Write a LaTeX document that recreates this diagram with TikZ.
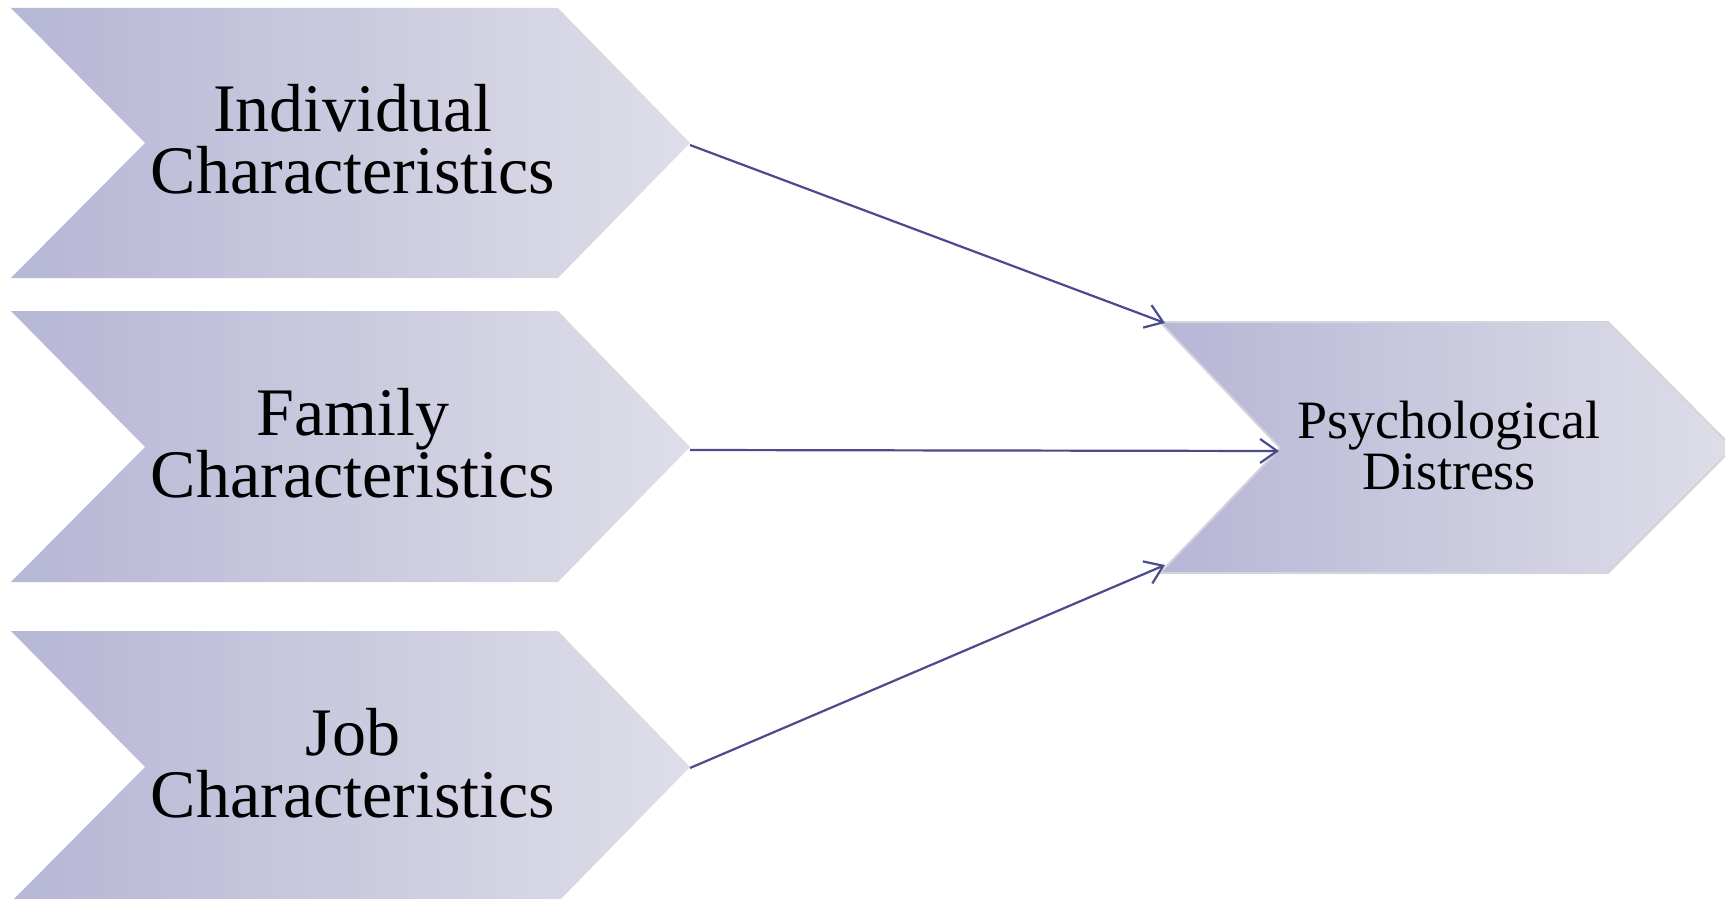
\documentclass[tikz,border=0pt]{standalone}
\usepackage{fontspec}
\setmainfont{Liberation Serif}
\usetikzlibrary{arrows.meta}
\definecolor{chevL}{RGB}{182,182,214}
\definecolor{chevR}{RGB}{222,222,232}
\definecolor{arrowc}{RGB}{75,75,140}
\definecolor{chevborder}{RGB}{212,212,222}
\begin{document}
\begin{tikzpicture}[x=1pt,y=-1pt,
  chev/.style={left color=chevL,right color=chevR,draw=none},
  chevb/.style={left color=chevL,right color=chevR,draw=chevborder,line width=2pt},
  biglabel/.style={align=center,font=\fontsize{68}{62}\selectfont,inner sep=0pt},
  smalllabel/.style={align=center,font=\fontsize{54}{51}\selectfont,inner sep=0pt},
  link/.style={draw=arrowc,line width=2.2pt,-{Straight Barb[length=17pt,width=24pt,line width=2.2pt]}}
]
\useasboundingbox (0,0) rectangle (1725,899);
\clip (0,0) rectangle (1725,899);

% chevrons
\path[chev] (11,8) -- (558,8) -- (690,143) -- (558,278) -- (11,278) -- (145,143) -- cycle;
\path[chev] (11,311) -- (558,311) -- (690,447) -- (558,582) -- (11,582) -- (145,447) -- cycle;
\path[chev] (11,631) -- (558,631) -- (690,767) -- (558,902) -- (11,902) -- (145,767) -- cycle;
\path[chevb] (1160,322) -- (1608,322) -- (1733,448) -- (1608,573) -- (1160,573) -- (1280,448) -- cycle;

% labels
\node[biglabel] (ind) at (353,139) {Individual\\Characteristics};
\node[biglabel] (fam) at (353,443) {Family\\Characteristics};
\node[biglabel] (job) at (353,763) {Job\\Characteristics};
\node[smalllabel] (psy) at (1449,446) {Psychological\\Distress};

% connector ends
\coordinate (t1) at (690,145);
\coordinate (t2) at (690,450);
\coordinate (t3) at (690,768);
\coordinate (pnw) at (1165,323);
\coordinate (pnotch) at (1279,451);
\coordinate (psw) at (1165,565);

\draw[link] (t1) -- (pnw);
\draw[link] (t2) -- (pnotch);
\draw[link] (t3) -- (psw);
\end{tikzpicture}
\end{document}
